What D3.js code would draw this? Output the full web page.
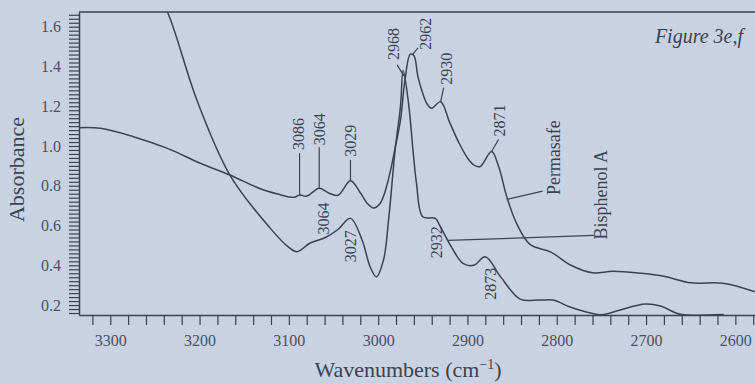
<!DOCTYPE html>
<html>
<head>
<meta charset="utf-8">
<script src="https://cdn.jsdelivr.net/npm/d3@7"></script>
<style>
  html, body { margin: 0; padding: 0; background: #c8d2e3; }
  svg { display: block; }
  text { font-family: "Liberation Serif", "DejaVu Serif", serif; }
</style>
</head>
<body>
<div id="chart"></div>
<script>
// spectra (wavenumber in cm-1, absorbance)
var wnPermasafe = [3335, 3311, 3274, 3236, 3199, 3166, 3132, 3110, 3100, 3094, 3088, 3080, 3066, 3056, 3045,
  3031, 3020, 3012, 3005, 2998, 2993, 2986, 2981, 2975, 2970, 2964, 2960, 2955, 2945, 2940, 2930, 2920,
  2910, 2900, 2893, 2886, 2873, 2865, 2856, 2845, 2830, 2806, 2784, 2760, 2737, 2706, 2680, 2650, 2614, 2578];
var absPermasafe = [1.092, 1.089, 1.047, 0.988, 0.913, 0.854, 0.785, 0.755, 0.744, 0.742, 0.753, 0.748, 0.787, 0.765, 0.752,
  0.825, 0.765, 0.71, 0.688, 0.71, 0.76, 0.88, 0.99, 1.13, 1.33, 1.462, 1.455, 1.34, 1.21, 1.19, 1.223, 1.12,
  1.02, 0.94, 0.905, 0.896, 0.972, 0.896, 0.745, 0.611, 0.505, 0.465, 0.40, 0.362, 0.37, 0.36, 0.345, 0.312, 0.31, 0.267];

var wnBisphenol = [3250, 3236, 3203, 3166, 3121, 3100, 3091, 3076, 3059, 3045, 3031, 3018, 3009, 3002, 2994,
  2988, 2981, 2975, 2972, 2966, 2961, 2957, 2950, 2936, 2931, 2919, 2905, 2893, 2880, 2863, 2841, 2820,
  2804, 2785, 2762, 2748, 2729, 2701, 2684, 2665, 2654, 2613];
var absBisphenol = [1.78, 1.674, 1.231, 0.854, 0.587, 0.49, 0.468, 0.512, 0.54, 0.58, 0.636, 0.527, 0.393, 0.342, 0.427,
  0.644, 0.98, 1.2, 1.38, 1.216, 0.98, 0.81, 0.644, 0.636, 0.60, 0.50, 0.41, 0.40, 0.443, 0.343, 0.23, 0.225,
  0.225, 0.19, 0.16, 0.152, 0.175, 0.205, 0.195, 0.158, 0.15, 0.152];

var xTickValues = d3.range(3320, 2570, -20);
var xTickLabels = [3300, 3200, 3100, 3000, 2900, 2800, 2700, 2600];
var yTickValues = d3.range(8, 84).map(function(i) { return i / 50; });
var yTickLabels = [0.2, 0.4, 0.6, 0.8, 1.0, 1.2, 1.4, 1.6];

// peak labels: text, series, wavenumber of the marked point
var peakTexts = ["3086", "3064", "3029", "2968", "2962", "2930", "2871", "3064", "3027", "2932", "2873"];
var peakSeries = ["P", "P", "P", "B", "P", "P", "P", "B", "B", "B", "B"];
var peakWn = [3088, 3066, 3031, 2971, 2962, 2930, 2873, 3062, 3031, 2934, 2880];

var seriesNames = ["Permasafe", "Bisphenol A"];

var width = 755, height = 384;
var margin = {top: 12, right: 0, bottom: 69, left: 79};

var svg = d3.select("#chart").append("svg")
  .attr("width", width).attr("height", height);

var x = d3.scaleLinear().domain([3335, 2578]).range([margin.left, width - margin.right]);
var y = d3.scaleLinear().domain([0.15, 1.674]).range([height - margin.bottom, margin.top]);

var ink = "#3b4252";
var labelInk = "#4a5162";

// top frame line
svg.append("line")
  .attr("x1", margin.left).attr("x2", width)
  .attr("y1", margin.top).attr("y2", margin.top)
  .attr("stroke", ink).attr("stroke-width", 1.5);

var xAxis = d3.axisBottom(x).tickValues(xTickValues).tickSize(10).tickSizeOuter(0).tickPadding(10)
  .tickFormat(function(d) { return xTickLabels.indexOf(d) >= 0 ? d : ""; });
var gx = svg.append("g").attr("transform", "translate(0," + (height - margin.bottom) + ")").call(xAxis);

var yAxis = d3.axisLeft(y).tickValues(yTickValues).tickSize(10).tickSizeOuter(0).tickPadding(8)
  .tickFormat(function(d) {
    var lab = yTickLabels.find(function(v) { return Math.abs(v - d) < 1e-6; });
    return lab ? d3.format(".1f")(lab) : "";
  });
var gy = svg.append("g").attr("transform", "translate(" + margin.left + ",0)").call(yAxis);

[gx, gy].forEach(function(g) {
  g.select(".domain").attr("stroke", ink).attr("stroke-width", 1.5);
  g.selectAll(".tick line").attr("stroke", ink).attr("stroke-width", 1.2);
  g.selectAll(".tick text").attr("fill", labelInk).style("font-size", "16px")
    .style("font-family", "'Liberation Serif', serif");
});

// axis titles
svg.append("text")
  .attr("transform", "translate(24," + ((height - margin.bottom + margin.top) / 2 + 6) + ") rotate(-90)")
  .attr("text-anchor", "middle").attr("fill", ink).style("font-size", "22px")
  .text("Absorbance");

var xt = svg.append("text")
  .attr("x", 408).attr("y", 377)
  .attr("text-anchor", "middle").attr("fill", ink).style("font-size", "22px");
xt.append("tspan").text("Wavenumbers (cm");
xt.append("tspan").attr("dy", -8).style("font-size", "14px").text("\u22121");
xt.append("tspan").attr("dy", 8).text(")");

svg.append("text")
  .attr("x", 743).attr("y", 43).attr("text-anchor", "end")
  .attr("fill", ink).style("font-size", "20px").style("font-style", "italic")
  .text("Figure 3e,f");

// curves
svg.append("clipPath").attr("id", "plot-clip").append("rect")
  .attr("x", margin.left).attr("y", margin.top)
  .attr("width", width - margin.left).attr("height", height - margin.top - margin.bottom);

var line = d3.line()
  .x(function(d) { return x(d[0]); })
  .y(function(d) { return y(d[1]); })
  .curve(d3.curveCatmullRom.alpha(0.5));

var permasafe = wnPermasafe.map(function(w, i) { return [w, absPermasafe[i]]; });
var bisphenol = wnBisphenol.map(function(w, i) { return [w, absBisphenol[i]]; });

svg.append("g").attr("clip-path", "url(#plot-clip)")
  .selectAll("path")
  .data([permasafe, bisphenol])
  .enter().append("path")
  .attr("d", line)
  .attr("fill", "none")
  .attr("stroke", ink)
  .attr("stroke-width", 1.5);

// value of a series at a wavenumber (linear between read points)
function valueAt(series, wn) {
  for (var i = 0; i < series.length - 1; i++) {
    var a = series[i], b = series[i + 1];
    if (wn <= a[0] && wn >= b[0]) {
      return a[1] + (b[1] - a[1]) * (a[0] - wn) / (a[0] - b[0]);
    }
  }
  return series[series.length - 1][1];
}

// label placement: leader end offset (lx, ly) from the marked point, text start offset (tx, ty)
var peakLayout = [
  {lx: 0, ly: -42, tx: -1, ty: -45},
  {lx: 0, ly: -41, tx: 0, ty: -43},
  {lx: 0, ly: -21, tx: 0, ty: -24},
  {lx: -7, ly: -11, tx: -11, ty: -16},
  {lx: 6, ly: -7, tx: 13, ty: -5},
  {lx: 3, ly: -14, tx: 6, ty: -17},
  {lx: 7, ly: -12, tx: 8, ty: -15},
  {lx: null, tx: 1, ty: -4},
  {lx: null, tx: 0, ty: 44},
  {lx: null, tx: -1, ty: 37},
  {lx: null, tx: 5, ty: 43}
];

var labels = svg.append("g");
peakTexts.forEach(function(t, i) {
  var s = peakSeries[i] === "P" ? permasafe : bisphenol;
  var px = x(peakWn[i]), py = y(valueAt(s, peakWn[i]));
  var lay = peakLayout[i];
  if (lay.lx !== null) {
    labels.append("line")
      .attr("x1", px).attr("y1", py)
      .attr("x2", px + lay.lx).attr("y2", py + lay.ly)
      .attr("stroke", ink).attr("stroke-width", 1.2);
  }
  labels.append("text")
    .attr("transform", "translate(" + (px + lay.tx) + "," + (py + lay.ty) + ") rotate(-90)")
    .attr("dy", "0.35em")
    .attr("fill", ink).style("font-size", "16px")
    .text(t);
});

// series name labels with leaders
var nameWn = [2855, 2922];
var nameLayout = [
  {lx: 35, ly: -8, tx: 46, ty: -4},
  {lx: 146, ly: -5, tx: 153, ty: -1}
];
seriesNames.forEach(function(n, i) {
  var s = i === 0 ? permasafe : bisphenol;
  var px = x(nameWn[i]), py = y(valueAt(s, nameWn[i]));
  var lay = nameLayout[i];
  labels.append("line")
    .attr("x1", px).attr("y1", py)
    .attr("x2", px + lay.lx).attr("y2", py + lay.ly)
    .attr("stroke", ink).attr("stroke-width", 1.2);
  labels.append("text")
    .attr("transform", "translate(" + (px + lay.tx) + "," + (py + lay.ty) + ") rotate(-90)")
    .attr("dy", "0.35em")
    .attr("fill", ink).style("font-size", "18px")
    .text(n);
});
</script>
</body>
</html>
